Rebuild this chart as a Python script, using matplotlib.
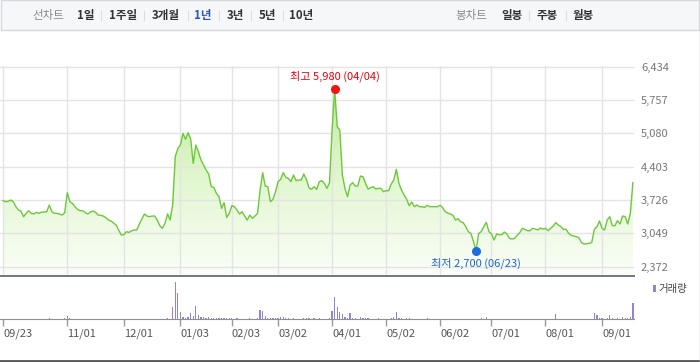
import matplotlib
matplotlib.use('Agg')
import matplotlib.pyplot as plt
import numpy as np
from matplotlib.colors import LinearSegmentedColormap
from matplotlib.patches import PathPatch, Rectangle
from matplotlib.lines import Line2D

plt.rcParams['font.family'] = ['Noto Sans CJK KR', 'DejaVu Sans']

# daily close, 2021-09-23 ~ 2022-09 (trading days)
closes = [
    3713, 3692, 3700, 3726, 3692, 3591, 3523, 3500, 3387, 3455,
    3509, 3455, 3442, 3476, 3455, 3482, 3482, 3489, 3624, 3489,
    3455, 3455, 3440, 3421, 3469, 3875, 3692, 3658, 3590, 3536,
    3509, 3509, 3469, 3442, 3482, 3503, 3476, 3421, 3415, 3400,
    3367, 3320, 3300, 3260, 3218, 3117, 3015, 3022, 3083, 3069,
    3100, 3117, 3117, 3232, 3340, 3442, 3400, 3388, 3401, 3401,
    3320, 3205, 3151, 3252, 3442, 3320, 3624, 4606, 4775, 4843,
    5080, 4958, 5093, 4965, 4471, 4843, 4708, 4538, 4440, 4335,
    4254, 3997, 3983, 3861, 3794, 3557, 3672, 3374, 3455, 3611,
    3591, 3523, 3442, 3489, 3400, 3320, 3421, 3354, 3401, 3455,
    3929, 4281, 4010, 3997, 3692, 3740, 3895, 4098, 4146, 4281,
    4186, 4166, 4098, 4234, 4119, 4132, 4132, 4254, 4146, 3976,
    3943, 3997, 3943, 4098, 4119, 4064, 3963, 4078, 5148, 5980,
    5215, 5148, 4234, 3963, 3794, 4031, 4078, 4010, 4010, 4213,
    4200, 4064, 3949, 3976, 3997, 3949, 3963, 3963, 3895, 3916,
    3916, 4051, 4132, 4349, 4064, 3929, 3828, 3740, 3611, 3685,
    3591, 3624, 3591, 3590, 3577, 3618, 3591, 3591, 3591, 3591,
    3618, 3570, 3489, 3460, 3442, 3415, 3320, 3347, 3286, 3266,
    3184, 3083, 3049, 2880, 2700, 3049, 3083, 3184, 3272, 3083,
    3036, 2914, 3036, 3022, 3022, 3076, 3036, 2948, 2934, 2948,
    3009, 3063, 3151, 3130, 3103, 3103, 3151, 3137, 3117, 3157,
    3137, 3151, 3103, 3151, 3198, 3266, 3218, 3184, 3130, 3130,
    3049, 3010, 2995, 2981, 2961, 2860, 2832, 2840, 2846, 2866,
    3130, 3184, 3299, 3151, 3117, 3320, 3388, 3205, 3205, 3306,
    3239, 3401, 3388, 3239, 3455, 4078,
]

# volume (thousand shares)
volumes = [
    5, 5, 5, 5, 5, 5, 5, 5, 5, 5,
    5, 5, 5, 5, 5, 5, 5, 5, 130, 5,
    5, 5, 5, 5, 130, 330, 130, 5, 5, 5,
    5, 5, 5, 5, 5, 5, 5, 5, 5, 5,
    5, 5, 5, 5, 5, 5, 5, 5, 5, 5,
    5, 5, 5, 5, 5, 5, 5, 5, 5, 5,
    5, 5, 5, 5, 70, 5, 1230, 3670, 2630, 730,
    200, 100, 230, 600, 300, 1300, 400, 200, 200, 130,
    230, 130, 130, 120, 120, 120, 120, 120, 120, 130,
    5, 100, 5, 5, 5, 5, 100, 5, 5, 100,
    930, 830, 330, 130, 130, 130, 130, 130, 170, 230,
    130, 100, 5, 100, 5, 5, 5, 100, 100, 100,
    5, 100, 5, 100, 5, 5, 5, 130, 830, 2230,
    1230, 730, 470, 200, 130, 600, 130, 100, 5, 200,
    130, 130, 130, 5, 5, 5, 100, 5, 5, 5,
    5, 100, 200, 730, 130, 100, 5, 130, 130, 5,
    5, 5, 5, 5, 5, 100, 5, 5, 5, 5,
    5, 5, 5, 5, 5, 5, 5, 5, 5, 5,
    5, 5, 5, 5, 5, 5, 130, 5, 230, 5,
    5, 5, 5, 5, 5, 5, 5, 5, 5, 5,
    5, 5, 5, 5, 5, 5, 5, 5, 5, 5,
    5, 5, 5, 5, 5, 500, 5, 5, 5, 5,
    5, 5, 5, 5, 5, 5, 5, 5, 5, 5,
    630, 400, 130, 70, 5, 130, 400, 130, 5, 130,
    5, 230, 130, 130, 230, 1630,
]

tick_idx = [0, 25, 47, 69, 89, 107, 128, 149, 170, 190, 211, 233]
tick_labels = ['09/23', '11/01', '12/01', '01/03', '02/03', '03/02',
               '04/01', '05/02', '06/02', '07/01', '08/01', '09/01']
price_ticks = [2372, 3049, 3726, 4403, 5080, 5757, 6434]
price_labels = ['2,372', '3,049', '3,726', '4,403', '5,080', '5,757', '6,434']
peak_date = '04/04'
low_date = '06/23'

W, H = 700, 362
fig = plt.figure(figsize=(7, 3.62), dpi=100)


def fx(px):
    return px / W


def fy(py):
    return 1 - py / H


# 상단 탭 바
fig.patches.append(Rectangle((fx(0.5), fy(30)), fx(698.5), 29.5 / H, transform=fig.transFigure,
                             facecolor='#f6f7f9', edgecolor='#d6d8dd', lw=1))
tabs = [('선차트', 48, '#8a8a8a', 'normal'), ('1일', 86, '#333333', 'bold'),
        ('1주일', 123, '#333333', 'bold'), ('3개월', 166, '#333333', 'bold'),
        ('1년', 203, '#2f55b5', 'bold'), ('3년', 235, '#333333', 'bold'),
        ('5년', 267, '#333333', 'bold'), ('10년', 301, '#333333', 'bold'),
        ('봉차트', 471, '#8a8a8a', 'normal'), ('일봉', 512, '#333333', 'bold'),
        ('주봉', 547, '#333333', 'bold'), ('월봉', 583, '#333333', 'bold')]
for t, xc, c, w in tabs:
    fig.text(fx(xc), fy(15.5), t, ha='center', va='center', fontsize=8.3, color=c, fontweight=w)
for sx in [101, 144, 188, 219, 251, 283, 529, 566]:
    fig.add_artist(Line2D([fx(sx), fx(sx)], [fy(11), fy(20)], color='#dcdcdc', lw=0.8))

# 가격 차트
ax = fig.add_axes([0, fy(276), 634 / W, (276 - 66) / H])
axv = fig.add_axes([0, fy(319), 634 / W, (319 - 276) / H])

x = np.arange(len(closes))
ymin = 2183
ymax = 6434 + 0.7 * 20.31

poly = ax.fill_between(x, closes, ymin, facecolor='none', edgecolor='none')
grad = np.linspace(0, 1, 256).reshape(-1, 1)
cmap = LinearSegmentedColormap.from_list('g', ['#fbfef8', '#e3f7d2', '#c2eb9a'])
im = ax.imshow(grad, cmap=cmap, aspect='auto', origin='lower',
               extent=[x[0], x[-1], ymin, max(closes)], zorder=1)
clip = PathPatch(poly.get_paths()[0], transform=ax.transData, facecolor='none', edgecolor='none')
ax.add_patch(clip)
im.set_clip_path(clip)

for v in price_ticks:
    ax.axhline(v, color='#e4e4e4', lw=1, zorder=1.5)
for t in tick_idx:
    ax.axvline(t, color='#e4e4e4', lw=1, zorder=1.5)

ax.plot(x, closes, color='#6cc83a', lw=1.0, zorder=3)

ipk = int(np.argmax(closes))
ilo = int(np.argmin(closes))
ax.plot(ipk, closes[ipk], 'o', color='#f01414', ms=5.5, zorder=5)
ax.plot(ilo, closes[ilo], 'o', color='#1c6edc', ms=5.5, zorder=5)
ax.annotate(f'최고 {closes[ipk]:,} ({peak_date})', (ipk, closes[ipk]), xytext=(0, 13),
            textcoords='offset pixels', ha='center', va='center', fontsize=8, color='#e8000b')
ax.annotate(f'최저 {closes[ilo]:,} ({low_date})', (ilo, closes[ilo]), xytext=(0, -13),
            textcoords='offset pixels', ha='center', va='center', fontsize=8, color='#1f66cc')

ax.set_xlim(-3 / 2.571, 631 / 2.571)
ax.set_ylim(ymin, ymax)
ax.set_xticks([])
ax.yaxis.tick_right()
ax.set_yticks(price_ticks)
ax.set_yticklabels(price_labels)
ax.tick_params(axis='y', length=0, pad=5, labelsize=8, labelcolor='#777777')
for s in ['top', 'left', 'right']:
    ax.spines[s].set_visible(False)
ax.spines['bottom'].set_color('#72767f')
ax.spines['bottom'].set_linewidth(1.4)

# 거래량
axv.bar(x, volumes, width=0.5, color='#9483cf', zorder=2)
axv.set_xlim(ax.get_xlim())
axv.set_ylim(0, 4300)
axv.set_yticks([])
axv.set_xticks(tick_idx)
axv.set_xticklabels(tick_labels, ha='left')
axv.tick_params(axis='x', length=5, width=1, color='#9a9a9a', pad=1.5, labelsize=8,
                labelcolor='#555555')
for s in ['top', 'left', 'right']:
    axv.spines[s].set_visible(False)
axv.spines['bottom'].set_color('#8f8f8f')
axv.set_facecolor('none')

fig.patches.append(Rectangle((fx(653), fy(292)), 2.5 / W, 7 / H, transform=fig.transFigure,
                             facecolor='#9483cf', edgecolor='none'))
fig.text(fx(658), fy(289), '거래량', ha='left', va='center', fontsize=7.5, color='#444444')

# 테두리
fig.add_artist(Line2D([0, 1], [fy(361), fy(361)], color='#555555', lw=2))
fig.add_artist(Line2D([fx(699.5), fx(699.5)], [fy(30), fy(361)], color='#cfcfcf', lw=1))

fig.savefig('out.png', dpi=100)
